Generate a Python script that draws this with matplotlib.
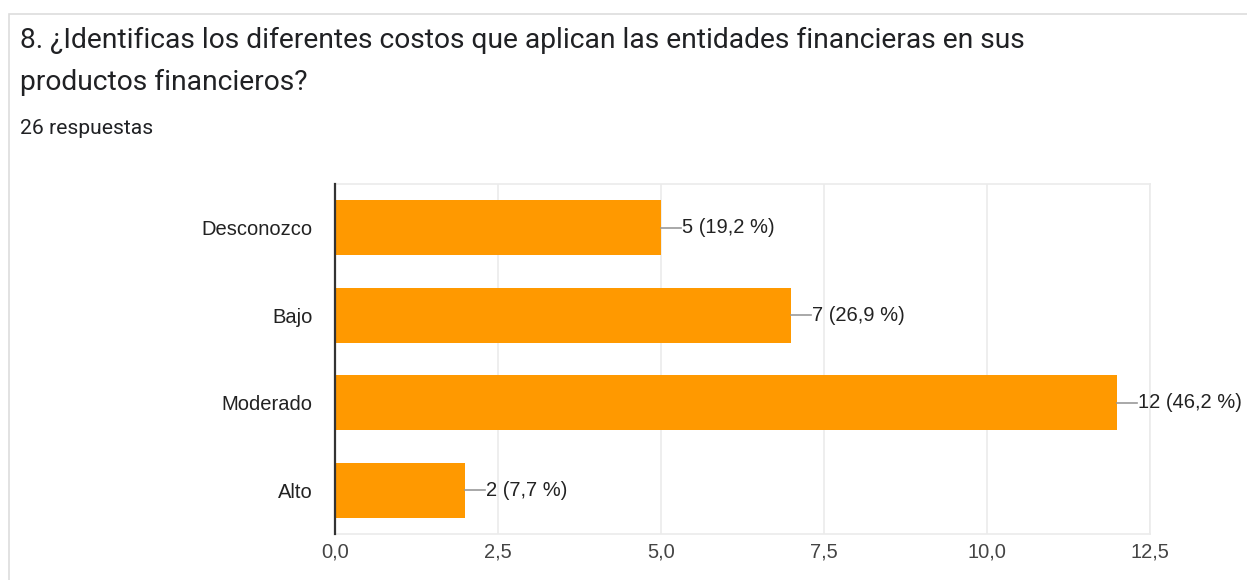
import matplotlib
matplotlib.use("Agg")
import matplotlib.pyplot as plt
from matplotlib.patches import Rectangle

categories = ["Desconozco", "Bajo", "Moderado", "Alto"]
counts = [5, 7, 12, 2]
percents = ["19,2", "26,9", "46,2", "7,7"]
xticks = [0, 2.5, 5, 7.5, 10, 12.5]
xtick_labels = ["0,0", "2,5", "5,0", "7,5", "10,0", "12,5"]
title_lines = ["8. ¿Identificas los diferentes costos que aplican las entidades financieras en sus",
               "productos financieros?"]
subtitle = "26 respuestas"

W, H = 1247, 580
fig = plt.figure(figsize=(W / 100, H / 100), dpi=100)
fig.patch.set_facecolor("white")

# card border
fig.patches.append(Rectangle((9 / W, -0.1), 1.2, (580 - 14) / H + 0.1, transform=fig.transFigure,
                             fill=False, edgecolor="#dddddd", linewidth=1.2))

for line, yc in zip(title_lines, [40, 82]):
    fig.text(20 / W, 1 - yc / H, line, fontsize=20.3, family=["Roboto", "DejaVu Sans"], color="#202124",
             va="center", ha="left")
fig.text(20 / W, 1 - 128 / H, subtitle, fontsize=15.2, family=["Roboto", "DejaVu Sans"], color="#202124",
         va="center", ha="left")

LBL = 14.5
ax = fig.add_axes([335 / W, (580 - 534) / H, (1150 - 335) / W, (534 - 184) / H])
y = list(range(len(categories)))
ax.barh(y, counts, height=0.63, color="#ff9900", zorder=3)
ax.set_ylim(len(categories) - 0.5, -0.5)
ax.set_xlim(0, 12.5)
ax.set_xticks(xticks)
ax.set_xticklabels(xtick_labels)
ax.set_yticks(y)
ax.set_yticklabels(categories)
ax.tick_params(axis="both", length=0, labelsize=LBL, colors="#444444")
ax.tick_params(axis="x", pad=6)
ax.tick_params(axis="y", pad=16)
for lbl in ax.get_xticklabels() + ax.get_yticklabels():
    lbl.set_family(["Liberation Sans", "DejaVu Sans"])
for lbl in ax.get_yticklabels():
    lbl.set_color("#222222")
ax.grid(axis="x", color="#ebebeb", linewidth=1.2, zorder=0)
for s in ["top", "right", "bottom"]:
    ax.spines[s].set_color("#ebebeb")
    ax.spines[s].set_linewidth(1.2)
ax.spines["left"].set_color("#333333")
ax.spines["left"].set_linewidth(1.6)
ax.spines["left"].set_zorder(4)

px = 12.5 / (1150 - 335)
for yi, c, p in zip(y, counts, percents):
    ax.plot([c, c + 20 * px], [yi, yi], color="#999999", linewidth=1.2, zorder=3, clip_on=False)
    ax.text(c + 21 * px, yi, f"{c} ({p} %)", va="center", ha="left", fontsize=LBL,
            family=["Liberation Sans", "DejaVu Sans"], color="#222222", clip_on=False)

fig.savefig("out.png", dpi=100, facecolor="white")
